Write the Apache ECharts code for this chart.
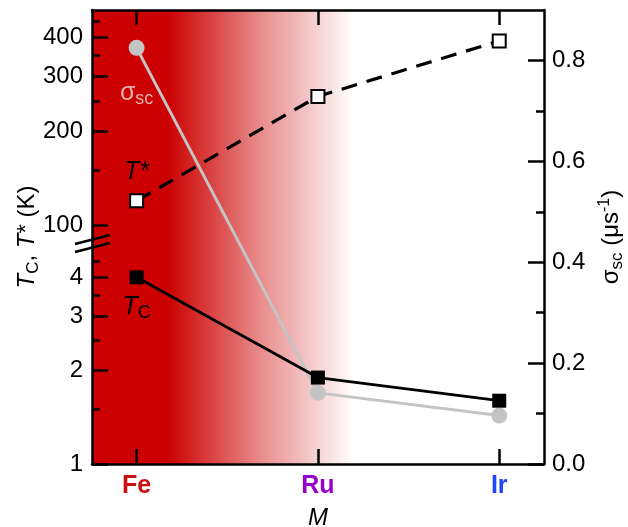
<!DOCTYPE html>
<html><head><meta charset="utf-8">
<script src="https://cdn.jsdelivr.net/npm/echarts@6/dist/echarts.min.js"></script>
<style>html,body{margin:0;padding:0;background:#fff}#c{width:628px;height:527px}</style>
</head><body><div id="c"></div>
<script>
// ---- data ----
const categories = ['Fe', 'Ru', 'Ir'];
const categoryColors = ['#CC1111', '#9900CC', '#2244FF'];
const tStar = [120, 259, 390];      // K, open squares, dashed
const tC = [4.0, 1.9, 1.6];         // K, filled squares
const sigmaSc = [0.825, 0.141, 0.096]; // us^-1, grey circles (right axis)
const upperTicks = [100, 200, 300, 400];
const upperMinor = [150, 250, 350, 450];
const lowerTicks = [1, 2, 3, 4];
const lowerMinor = [1.5, 2.5, 3.5, 4.5];
const sigmaTicks = [0, 0.2, 0.4, 0.6, 0.8];
const sigmaMinor = [0.1, 0.3, 0.5, 0.7];

// ---- layout ----
const FONT = 'Liberation Sans, Arial, Helvetica, sans-serif';
const L = 92, R = 84, T = 10, B = 63, SPLIT = 242; // pixel layout of frame
const H = 527;
const X_MIN = -0.246, X_MAX = 2.247;
const UP_MIN = 88.5, UP_MAX = 490;
const LO_MIN = 1, LO_MAX = 5.2;
const S_MIN = 0, S_MAX = 0.9;
const AX = {color: '#000', width: 2.5};
const catIdx = categories.map((c, i) => i);
const BG_SOLID_END = 0.17, BG_FADE_END = 1.2;

const chart = echarts.init(document.getElementById('c'), null, {renderer: 'canvas'});

const rich = {};
categories.forEach((c, i) => {
  rich['c' + i] = {color: categoryColors[i], fontWeight: 'bold', fontSize: 25, fontFamily: FONT};
});

function hiddenX(gi) {
  return {type: 'value', gridIndex: gi, min: X_MIN, max: X_MAX, show: false, axisLine: {onZero: false}};
}
function gridBox(top, bottom) {
  return {left: L, right: R, top: top, bottom: bottom, containLabel: false, outerBoundsMode: 'none'};
}
const solidFrac = (BG_SOLID_END - X_MIN) / (BG_FADE_END - X_MIN);

const option = {
  animation: false,
  backgroundColor: '#fff',
  grid: [
    gridBox(T, H - SPLIT),   // 0 upper (T*)
    gridBox(SPLIT, B),       // 1 lower (Tc)
    gridBox(T, B)            // 2 full (sigma)
  ],
  xAxis: [
    { // 0 bottom, full grid
      type: 'value', gridIndex: 2, min: X_MIN, max: X_MAX, position: 'bottom', z: 10,
      axisLine: {show: true, onZero: false, lineStyle: AX},
      axisTick: {show: true, inside: true, length: 15, lineStyle: AX, customValues: catIdx},
      axisLabel: {show: true, margin: 10, customValues: catIdx, rich: rich,
        formatter: v => { const i = Math.round(v); return '{c' + i + '|' + categories[i] + '}'; }},
      splitLine: {show: false},
      name: 'M', nameLocation: 'middle', nameGap: 42,
      nameTextStyle: {fontFamily: FONT, fontSize: 24, fontStyle: 'italic', color: '#000'}
    },
    hiddenX(0), // 1
    hiddenX(1), // 2
    { // 3 top frame
      type: 'value', gridIndex: 2, min: X_MIN, max: X_MAX, position: 'top', z: 10,
      axisLine: {show: true, onZero: false, lineStyle: AX},
      axisTick: {show: true, inside: true, length: 15, lineStyle: AX, customValues: catIdx},
      axisLabel: {show: false}, splitLine: {show: false}
    }
  ],
  yAxis: [
    { // 0 sigma right
      type: 'value', gridIndex: 2, position: 'right', min: S_MIN, max: S_MAX, z: 10,
      axisLine: {show: true, onZero: false, lineStyle: AX},
      axisTick: {show: true, inside: true, length: 16, lineStyle: AX, customValues: sigmaTicks},
      axisLabel: {show: true, margin: 8, customValues: sigmaTicks, color: '#000', fontFamily: FONT, fontSize: 24,
        formatter: v => v.toFixed(1)},
      splitLine: {show: false},
      name: '{g|σ}{sub|sc} {g|(μs}{sup|-1}{g|)}', nameLocation: 'middle', nameGap: 48,
      nameTextStyle: {color: '#000', fontFamily: FONT, fontSize: 24, rich: {
        g: {fontFamily: FONT, fontSize: 24, color: '#000', lineHeight: 30},
        sub: {fontFamily: FONT, fontSize: 17, color: '#000', verticalAlign: 'bottom', lineHeight: 17},
        sup: {fontFamily: FONT, fontSize: 16, color: '#000', verticalAlign: 'top', lineHeight: 16}
      }}
    },
    { // 1 sigma minor ticks
      type: 'value', gridIndex: 2, position: 'right', min: S_MIN, max: S_MAX, z: 10,
      axisLine: {show: false, onZero: false},
      axisTick: {show: true, inside: true, length: 8, lineStyle: AX, customValues: sigmaMinor},
      axisLabel: {show: false}, splitLine: {show: false}
    },
    { // 2 upper log
      type: 'log', logBase: 10, gridIndex: 0, position: 'left', min: UP_MIN, max: UP_MAX, z: 10,
      axisLine: {show: true, onZero: false, lineStyle: AX},
      axisTick: {show: true, inside: true, length: 16, lineStyle: AX, customValues: upperTicks},
      axisLabel: {show: true, margin: 9, customValues: upperTicks, color: '#000', fontFamily: FONT, fontSize: 24,
        formatter: v => String(Math.round(v))},
      splitLine: {show: false}, minorTick: {show: false}
    },
    { // 3 upper minor
      type: 'log', logBase: 10, gridIndex: 0, position: 'left', min: UP_MIN, max: UP_MAX, z: 10,
      axisLine: {show: false, onZero: false},
      axisTick: {show: true, inside: true, length: 8, lineStyle: AX, customValues: upperMinor},
      axisLabel: {show: false}, splitLine: {show: false}
    },
    { // 4 lower log
      type: 'log', logBase: 10, gridIndex: 1, position: 'left', min: LO_MIN, max: LO_MAX, z: 10,
      axisLine: {show: true, onZero: false, lineStyle: AX},
      axisTick: {show: true, inside: true, length: 16, lineStyle: AX, customValues: lowerTicks},
      axisLabel: {show: true, margin: 9, customValues: lowerTicks, color: '#000', fontFamily: FONT, fontSize: 24,
        formatter: v => String(Math.round(v))},
      splitLine: {show: false}, minorTick: {show: false}
    },
    { // 5 lower minor
      type: 'log', logBase: 10, gridIndex: 1, position: 'left', min: LO_MIN, max: LO_MAX, z: 10,
      axisLine: {show: false, onZero: false},
      axisTick: {show: true, inside: true, length: 8, lineStyle: AX, customValues: lowerMinor},
      axisLabel: {show: false}, splitLine: {show: false}
    },
    { // 6 left title holder on full grid
      type: 'value', gridIndex: 2, position: 'left', min: 0, max: 1,
      axisLine: {show: false, onZero: false}, axisTick: {show: false}, axisLabel: {show: false}, splitLine: {show: false},
      name: '{i|T}{sub|C}{g|, }{i|T}{g|* (K)}', nameLocation: 'middle', nameGap: 50,
      nameTextStyle: {color: '#000', fontFamily: FONT, fontSize: 24, rich: {
        g: {fontFamily: FONT, fontSize: 24, color: '#000', lineHeight: 30},
        i: {fontFamily: FONT, fontSize: 24, color: '#000', fontStyle: 'italic', lineHeight: 30},
        sub: {fontFamily: FONT, fontSize: 17, color: '#000', verticalAlign: 'bottom', lineHeight: 17}
      }}
    }
  ],
  series: [
    {
      name: 'sigma', type: 'line', xAxisIndex: 0, yAxisIndex: 0, z: 3,
      data: sigmaSc.map((v, i) => i === 0 ? {value: [i, v], label: {
        show: true, position: 'bottom', distance: 22, formatter: '{s|σ}{sub|sc}',
        rich: {
          s: {fontFamily: FONT, fontSize: 25, color: '#e4b0b0', lineHeight: 30},
          sub: {fontFamily: FONT, fontSize: 18, color: '#e4b0b0', verticalAlign: 'bottom', lineHeight: 18}
        }}} : [i, v]),
      symbol: 'circle', symbolSize: 16,
      lineStyle: {color: '#c4c4c4', width: 3},
      itemStyle: {color: '#c4c4c4'},
      markArea: {
        silent: true, z: 1,
        data: [
          [{xAxis: X_MIN, itemStyle: {color: new echarts.graphic.LinearGradient(0, 0, 1, 0, [
            {offset: 0, color: 'rgba(204,0,0,1)'},
            {offset: solidFrac, color: 'rgba(204,0,0,1)'},
            {offset: solidFrac + (1 - solidFrac) * 0.5, color: 'rgba(204,0,0,0.45)'},
            {offset: 1, color: 'rgba(204,0,0,0)'}
          ])}}, {xAxis: BG_FADE_END}]
        ]
      }
    },
    {
      name: 'Tstar', type: 'line', xAxisIndex: 1, yAxisIndex: 2, z: 4,
      data: tStar.map((v, i) => i === 0 ? {value: [i, v], label: {
        show: true, position: 'top', distance: 9, formatter: '{i|T}{g|*}',
        rich: {
          i: {fontFamily: FONT, fontSize: 25, color: '#000', fontStyle: 'italic'},
          g: {fontFamily: FONT, fontSize: 25, color: '#000', fontStyle: 'italic'}
        }}} : [i, v]),
      symbol: 'rect', symbolSize: 13,
      lineStyle: {color: '#000', width: 3.2, type: [16, 10]},
      itemStyle: {color: '#fff', borderColor: '#000', borderWidth: 2}
    },
    {
      name: 'Tc', type: 'line', xAxisIndex: 2, yAxisIndex: 4, z: 4,
      data: tC.map((v, i) => i === 0 ? {value: [i, v], label: {
        show: true, position: 'bottom', distance: 8, formatter: '{i|T}{sub|C}',
        rich: {
          i: {fontFamily: FONT, fontSize: 25, color: '#000', fontStyle: 'italic', lineHeight: 30},
          sub: {fontFamily: FONT, fontSize: 18, color: '#000', verticalAlign: 'bottom', lineHeight: 18}
        }}} : [i, v]),
      symbol: 'rect', symbolSize: 14,
      lineStyle: {color: '#000', width: 2.8},
      itemStyle: {color: '#000'}
    }
  ],
  graphic: [
    {type: 'line', z: 100, shape: {x1: 75, y1: 244, x2: 110, y2: 235}, style: {stroke: '#000', lineWidth: 2.5}},
    {type: 'line', z: 100, shape: {x1: 75, y1: 252, x2: 110, y2: 243}, style: {stroke: '#000', lineWidth: 2.5}}
  ]
};
chart.setOption(option);
</script>
</body></html>
